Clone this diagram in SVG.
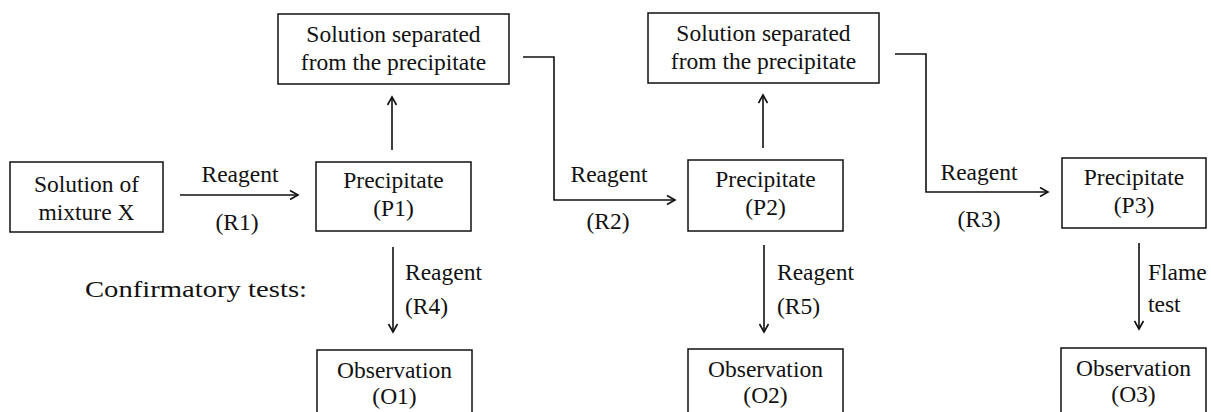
<svg xmlns="http://www.w3.org/2000/svg" width="1211" height="412" viewBox="0 0 1211 412" font-family="'Liberation Serif', 'Times New Roman', Times, serif">
<style>
text{font-family:'Liberation Serif','Times New Roman',Times,serif;font-size:23.5px;fill:#111}
.c{text-anchor:middle}
.box{fill:#fff;stroke:#111;stroke-width:1.5}
.ln{fill:none;stroke:#111;stroke-width:1.6}
</style>
<defs>
<marker id="ah" markerUnits="userSpaceOnUse" markerWidth="14" markerHeight="14" refX="10" refY="6" orient="auto">
<path d="M2,1.5 L10,6 L2,10.5" fill="none" stroke="#111" stroke-width="1.6"/>
</marker>
</defs>
<rect width="1211" height="412" fill="#fff"/>
<g id="connectors">
<line class="ln" x1="180" y1="195" x2="298" y2="195" marker-end="url(#ah)"/>
<line class="ln" x1="392" y1="150" x2="392" y2="97" marker-end="url(#ah)"/>
<line class="ln" x1="763" y1="148" x2="763" y2="95" marker-end="url(#ah)"/>
<polyline class="ln" points="523,57 554,57 554,200 675,200" marker-end="url(#ah)"/>
<polyline class="ln" points="895,54 926,54 926,192 1048,192" marker-end="url(#ah)"/>
<line class="ln" x1="393" y1="247" x2="393" y2="332" marker-end="url(#ah)"/>
<line class="ln" x1="764" y1="245" x2="764" y2="332" marker-end="url(#ah)"/>
<line class="ln" x1="1139" y1="243" x2="1139" y2="329" marker-end="url(#ah)"/>
<text class="c" x="240" y="182">Reagent</text>
<text class="c" x="237" y="230">(R1)</text>
<text class="c" x="609" y="182">Reagent</text>
<text class="c" x="608" y="229">(R2)</text>
<text class="c" x="979" y="180">Reagent</text>
<text class="c" x="979" y="227">(R3)</text>
<text x="405" y="280">Reagent</text>
<text x="405" y="314">(R4)</text>
<text x="777" y="280">Reagent</text>
<text x="777" y="314">(R5)</text>
<text x="1148" y="280">Flame</text>
<text x="1148" y="312">test</text>
</g>
<g id="label-confirmatory">
<text x="85" y="297" textLength="222" lengthAdjust="spacingAndGlyphs">Confirmatory tests:</text>
</g>
<g id="mixtureX">
<rect class="box" x="10" y="162" width="153" height="70"/>
<text class="c" x="86.5" y="192">Solution of</text>
<text class="c" x="86.5" y="220">mixture X</text>
</g>
<g id="P1">
<rect class="box" x="316" y="162" width="155" height="69"/>
<text class="c" x="393.5" y="188">Precipitate</text>
<text class="c" x="393.5" y="216">(P1)</text>
</g>
<g id="S1">
<rect class="box" x="278" y="14" width="231" height="70"/>
<text class="c" x="393.5" y="42">Solution separated</text>
<text class="c" x="393.5" y="70">from the precipitate</text>
</g>
<g id="P2">
<rect class="box" x="688" y="160" width="155" height="71"/>
<text class="c" x="765.5" y="187">Precipitate</text>
<text class="c" x="765.5" y="215">(P2)</text>
</g>
<g id="S2">
<rect class="box" x="648" y="13" width="231" height="70"/>
<text class="c" x="763.5" y="41">Solution separated</text>
<text class="c" x="763.5" y="69">from the precipitate</text>
</g>
<g id="P3">
<rect class="box" x="1062" y="158" width="144" height="70"/>
<text class="c" x="1134" y="185">Precipitate</text>
<text class="c" x="1134" y="213">(P3)</text>
</g>
<g id="O1">
<rect class="box" x="317" y="350" width="155" height="80"/>
<text class="c" x="394.5" y="378">Observation</text>
<text class="c" x="394.5" y="404">(O1)</text>
</g>
<g id="O2">
<rect class="box" x="688" y="349" width="155" height="80"/>
<text class="c" x="765.5" y="377">Observation</text>
<text class="c" x="765.5" y="403">(O2)</text>
</g>
<g id="O3">
<rect class="box" x="1061" y="348" width="145" height="80"/>
<text class="c" x="1133.5" y="376">Observation</text>
<text class="c" x="1133.5" y="402">(O3)</text>
</g>
</svg>
